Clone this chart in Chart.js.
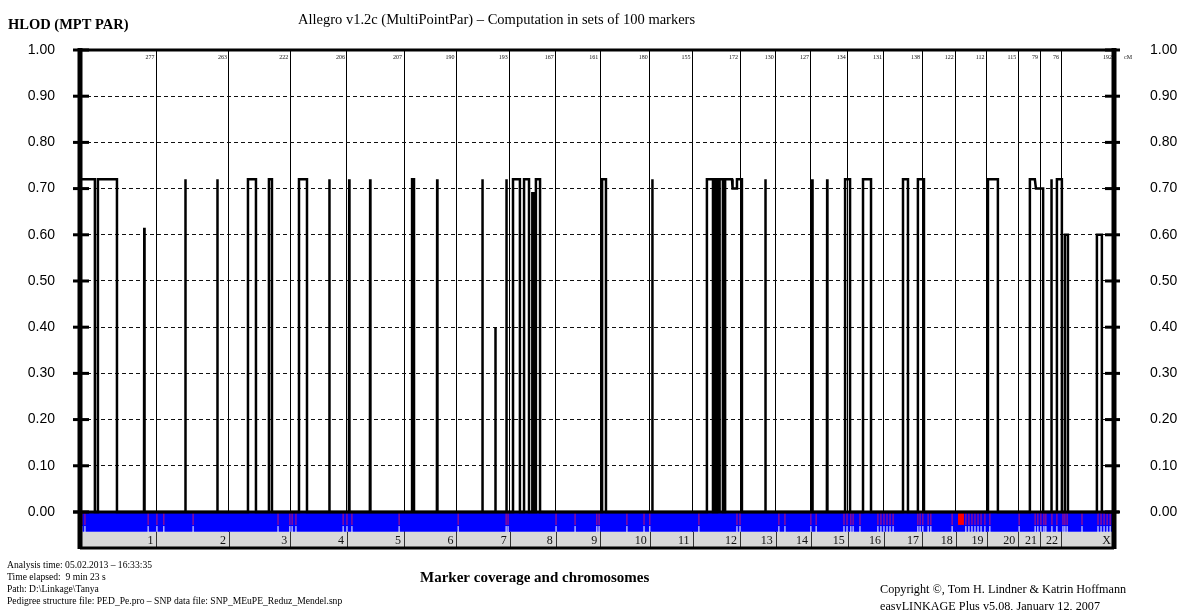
<!DOCTYPE html>
<html>
<head>
<meta charset="utf-8">
<title>HLOD (MPT PAR)</title>
<script src="https://cdn.jsdelivr.net/npm/chart.js@4.4.1/dist/chart.umd.min.js"></script>
<style>
  html, body { margin: 0; padding: 0; background: #fff; }
  #wrap { width: 1189px; height: 610px; }
</style>
</head>
<body>
<div id="wrap"><canvas id="hlodChart" width="1189" height="610"></canvas></div>
<script>
// chromosomes and their genetic length (cM), as printed on top of each block
const chromosomes = ["1", "2", "3", "4", "5", "6", "7", "8", "9", "10", "11", "12", "13", "14", "15", "16", "17", "18", "19", "20", "21", "22", "X"];
const chromLengthsCM = [277, 263, 222, 206, 207, 190, 193, 167, 161, 180, 155, 172, 130, 127, 134, 131, 138, 122, 112, 115, 79, 76, 192];

// HLOD curve, cumulative cM along the genome
const hlodCM = [
	0, 54, 54, 65, 65, 134, 134,
	232, 233, 234,
	381, 382, 383,
	497, 498, 499,
	609, 609, 638, 638,
	685, 685, 696, 696,
	794, 794, 823, 823,
	903, 904, 905,
	975, 976, 977,
	1051, 1052, 1053,
	1204, 1204, 1211, 1211,
	1294, 1295, 1296,
	1458, 1459, 1460,
	1505, 1506, 1507,
	1545, 1546, 1547,
	1570, 1570, 1595, 1595,
	1610, 1610, 1628, 1628,
	1639, 1640, 1645, 1646,
	1653, 1653, 1668, 1668,
	1893, 1893, 1907, 1907,
	2074, 2075, 2076,
	2273, 2273, 2295, 2295,
	2299, 2299, 2306, 2306,
	2310, 2310, 2317, 2317,
	2320, 2320, 2331, 2331,
	2339, 2339, 2364, 2366, 2380, 2382, 2400, 2400,
	2484, 2485, 2486,
	2654, 2655, 2656,
	2708, 2709, 2710,
	2774, 2774, 2792, 2792,
	2839, 2839, 2868, 2868,
	2984, 2984, 3002, 3002,
	3038, 3038, 3060, 3060,
	3292, 3292, 3328, 3328,
	3444, 3444, 3462, 3466, 3492, 3492,
	3521, 3522, 3523,
	3542, 3542, 3560, 3560,
	3571, 3571, 3582, 3582,
	3687, 3687, 3705, 3705,
	3749,
];
const hlodValue = [
	0.72, 0.72, 0, 0, 0.72, 0.72, 0,
	0, 0.615, 0,
	0, 0.72, 0,
	0, 0.72, 0,
	0, 0.72, 0.72, 0,
	0, 0.72, 0.72, 0,
	0, 0.72, 0.72, 0,
	0, 0.72, 0,
	0, 0.72, 0,
	0, 0.72, 0,
	0, 0.72, 0.72, 0,
	0, 0.72, 0,
	0, 0.72, 0,
	0, 0.40, 0,
	0, 0.72, 0,
	0, 0.72, 0.72, 0,
	0, 0.72, 0.72, 0,
	0, 0.69, 0.69, 0,
	0, 0.72, 0.72, 0,
	0, 0.72, 0.72, 0,
	0, 0.72, 0,
	0, 0.72, 0.72, 0,
	0, 0.72, 0.72, 0,
	0, 0.72, 0.72, 0,
	0, 0.72, 0.72, 0,
	0, 0.72, 0.72, 0.70, 0.70, 0.72, 0.72, 0,
	0, 0.72, 0,
	0, 0.72, 0,
	0, 0.72, 0,
	0, 0.72, 0.72, 0,
	0, 0.72, 0.72, 0,
	0, 0.72, 0.72, 0,
	0, 0.72, 0.72, 0,
	0, 0.72, 0.72, 0,
	0, 0.72, 0.72, 0.70, 0.70, 0,
	0, 0.72, 0,
	0, 0.72, 0.72, 0,
	0, 0.60, 0.60, 0,
	0, 0.60, 0.60, 0,
	0,
];

// flagged markers in the coverage band (cM) and the one gap block
const flaggedMarkerCM = [7, 18, 247, 279, 304, 410, 718, 761, 769, 783, 954, 968, 986, 1157, 1371, 1545, 1552, 1726, 1795, 1874, 1882, 1983, 2045, 2066, 2244, 2382, 2393, 2534, 2556, 2650, 2669, 2770, 2781, 2795, 2803, 2828, 2893, 2904, 2915, 2926, 2937, 2948, 3038, 3046, 3056, 3075, 3085, 3162, 3212, 3223, 3234, 3245, 3256, 3267, 3281, 3299, 3405, 3463, 3473, 3484, 3495, 3502, 3524, 3542, 3564, 3571, 3579, 3633, 3691, 3702, 3713, 3724, 3735, 3745];
const gapBlockCM = [3183, 3205];

const yTicks = [0, 0.1, 0.2, 0.3, 0.4, 0.5, 0.6, 0.7, 0.8, 0.9, 1.0];

const infoLines = [
	"Analysis time: 05.02.2013 \u2013 16:33:35",
	"Time elapsed:  9 min 23 s",
	"Path: D:\\Linkage\\Tanya",
	"Pedigree structure file: PED_Pe.pro \u2013 SNP data file: SNP_MEuPE_Reduz_Mendel.snp",
];

// band limits below zero (in HLOD units)
const blueBottom = -0.043;
const yMin = -0.078;

let total = 0;
const chromEnds = chromLengthsCM.map((len) => (total += len));
const totalCM = total;

const serif = "'Liberation Serif', 'Times New Roman', serif";

const decorPlugin = {
	id: "decor",
	afterDatasetsDraw(chart) {
		const ctx = chart.ctx;
		const x = chart.scales.x;
		const y = chart.scales.y;
		const left = x.getPixelForValue(0);
		const right = x.getPixelForValue(totalCM);
		const top = y.getPixelForValue(1);
		const zero = y.getPixelForValue(0);
		const greyTop = y.getPixelForValue(blueBottom);
		const bottom = y.getPixelForValue(yMin);

		function line(x1, y1, x2, y2, w, c) {
			ctx.beginPath();
			ctx.lineWidth = w;
			ctx.strokeStyle = c;
			ctx.moveTo(x1, y1);
			ctx.lineTo(x2, y2);
			ctx.stroke();
		}

		ctx.save();
		// separators in the chromosome band
		chromEnds.slice(0, -1).forEach((b) => {
			const px = Math.round(x.getPixelForValue(b)) + 0.5;
			line(px, greyTop, px, bottom, 1, "#333");
		});

		// frame
		line(left - 2, top, right + 2, top, 3, "#000");
		line(left - 7, zero, right + 5, zero, 3, "#000");
		line(left, bottom, right, bottom, 3, "#000");
		line(left, top - 2, left, bottom + 1, 5, "#000");
		line(right, top - 2, right, bottom + 1, 5, "#000");
		yTicks.forEach((v) => {
			const py = y.getPixelForValue(v);
			line(left - 7, py, left + 9, py, 3, "#000");
			line(right - 9, py, right + 6, py, 3, "#000");
		});

		// cM lengths and chromosome names
		ctx.fillStyle = "#111";
		ctx.textAlign = "right";
		ctx.textBaseline = "middle";
		chromEnds.forEach((b, i) => {
			const px = x.getPixelForValue(b);
			ctx.font = "6px " + serif;
			ctx.fillText(String(chromLengthsCM[i]), px - 2, top + 7);
			ctx.font = "12px " + serif;
			ctx.fillText(chromosomes[i], px - 3, (greyTop + bottom) / 2 + 1);
		});
		ctx.textAlign = "left";
		ctx.font = "6px " + serif;
		ctx.fillText("cM", right + 10, top + 7);

		// headings and footer texts
		ctx.fillStyle = "#000";
		ctx.font = "bold 14.5px " + serif;
		ctx.fillText("HLOD (MPT PAR)", 8, 25);
		ctx.font = "14.5px " + serif;
		ctx.fillText("Allegro v1.2c (MultiPointPar) \u2013 Computation in sets of 100 markers", 298, 20);
		ctx.font = "9.6px " + serif;
		infoLines.forEach((t, i) => ctx.fillText(t, 7, 565 + i * 12));
		ctx.font = "bold 15px " + serif;
		ctx.fillText("Marker coverage and chromosomes", 420, 578);
		ctx.font = "12.2px " + serif;
		ctx.fillText("Copyright \u00a9, Tom H. Lindner & Katrin Hoffmann", 880, 590);
		ctx.fillText("easyLINKAGE Plus v5.08, January 12, 2007", 880, 607);
		ctx.restore();
	},
};

const ctx = document.getElementById("hlodChart").getContext("2d");

const yAxisBase = {
	min: yMin,
	max: 1,
	afterBuildTicks: (s) => {
		s.ticks = yTicks.map((v) => ({ value: v }));
	},
	ticks: {
		callback: (v) => v.toFixed(2),
		color: "#000",
		font: { family: "'Liberation Sans', Arial, sans-serif", size: 14 },
	},
};

const hlodChart = new Chart(ctx, {
	type: "line",
	data: {
		datasets: [
			{
				label: "HLOD",
				data: hlodCM.map((cm, i) => ({ x: cm, y: hlodValue[i] })),
				borderColor: "#000",
				borderWidth: 2.5,
				pointRadius: 0,
				tension: 0,
				fill: false,
				order: 0,
			},
			{
				label: "flagged markers",
				data: flaggedMarkerCM.map((cm) => ({ x: cm, y: -0.0152 })),
				showLine: false,
				pointStyle: "line",
				rotation: 90,
				pointRadius: 6,
				pointBorderWidth: 1,
				pointBorderColor: "#c8106a",
				order: 1,
			},
			{
				label: "marker ticks",
				data: flaggedMarkerCM.map((cm) => ({ x: cm, y: -0.037 })),
				showLine: false,
				pointStyle: "line",
				rotation: 90,
				pointRadius: 3,
				pointBorderWidth: 1,
				pointBorderColor: "#ffffff",
				order: 2,
			},
			{
				label: "gap",
				data: gapBlockCM.map((cm) => ({ x: cm, y: -0.028 })),
				borderWidth: 0,
				pointRadius: 0,
				fill: { value: 0 },
				backgroundColor: "#ff0000",
				order: 3,
			},
			{
				label: "coverage",
				data: [{ x: 0, y: blueBottom }, { x: totalCM, y: blueBottom }],
				borderWidth: 0,
				pointRadius: 0,
				fill: { value: 0 },
				backgroundColor: "#0000ff",
				order: 4,
			},
			{
				label: "chromosomes",
				data: [{ x: 0, y: yMin }, { x: totalCM, y: yMin }],
				borderWidth: 0,
				pointRadius: 0,
				fill: { value: blueBottom },
				backgroundColor: "#d8d8d8",
				order: 5,
			},
		],
	},
	options: {
		responsive: false,
		animation: false,
		layout: { padding: { top: 50, bottom: 62, left: 0, right: 0 } },
		plugins: {
			legend: { display: false },
			tooltip: { enabled: false },
		},
		scales: {
			x: {
				type: "linear",
				min: 0,
				max: totalCM,
				afterBuildTicks: (s) => {
					s.ticks = chromEnds.slice(0, -1).map((v) => ({ value: v }));
				},
				afterFit: (s) => {
					s.height = 0;
				},
				ticks: { display: false },
				grid: { color: "#000", lineWidth: 1, drawTicks: false },
				border: { display: false },
			},
			y: {
				...yAxisBase,
				position: "left",
				afterFit: (s) => {
					s.width = 80;
				},
				ticks: { ...yAxisBase.ticks, padding: 25 },
				grid: {
					drawTicks: false,
					lineWidth: 1,
					color: (c) => (c.tick && (c.tick.value === 0 || c.tick.value === 1) ? "rgba(0,0,0,0)" : "#111"),
				},
				border: { display: false, dash: [4, 3] },
			},
			y2: {
				...yAxisBase,
				position: "right",
				afterFit: (s) => {
					s.width = 75;
				},
				ticks: { ...yAxisBase.ticks, padding: 36 },
				grid: { display: false, drawTicks: false },
				border: { display: false },
			},
		},
	},
	plugins: [decorPlugin],
});
</script>
</body>
</html>
